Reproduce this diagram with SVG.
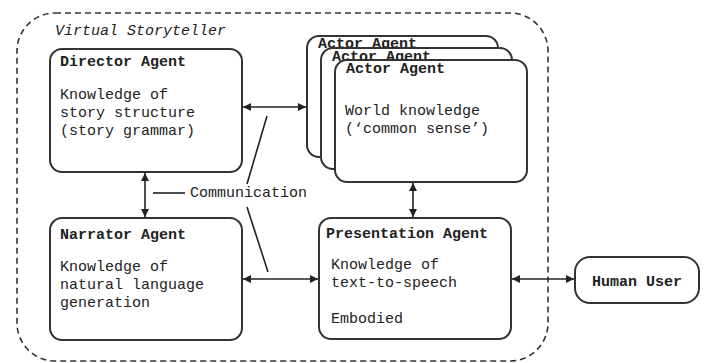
<svg xmlns="http://www.w3.org/2000/svg" width="708" height="363" viewBox="0 0 708 363">
<defs>
<marker id="ah" viewBox="0 0 10 10" refX="10" refY="5" markerWidth="8" markerHeight="8" markerUnits="userSpaceOnUse" orient="auto-start-reverse">
<path d="M0,0 L10,5 L0,10 z" fill="#222"/>
</marker>
<style>
.box{fill:#fff;stroke:#333;stroke-width:2}
.t{font-family:"Liberation Mono","Courier New",monospace;font-size:15px;fill:#222}
.b{font-weight:bold}
.c{stroke:#222;stroke-width:1.6;fill:none}
</style>
</defs>
<rect width="708" height="363" fill="#fff"/>
<g id="storyteller">
<rect x="17" y="13" width="531" height="348" rx="38" ry="38" fill="none" stroke="#333" stroke-width="1.6" stroke-dasharray="6 4"/>
<text class="t" x="55" y="35" font-style="italic">Virtual Storyteller</text>
</g>
<g id="director">
<rect class="box" x="50" y="49" width="192" height="123" rx="12"/>
<text class="t b" x="60" y="66">Director Agent</text>
<text class="t" x="60" y="99">Knowledge of</text>
<text class="t" x="60" y="117">story structure</text>
<text class="t" x="60" y="135">(story grammar)</text>
</g>
<g id="narrator">
<rect class="box" x="50" y="218" width="192" height="122" rx="12"/>
<text class="t b" x="60" y="239">Narrator Agent</text>
<text class="t" x="60" y="271">Knowledge of</text>
<text class="t" x="60" y="289">natural language</text>
<text class="t" x="60" y="307">generation</text>
</g>
<g id="actor1">
<rect class="box" x="307" y="36" width="191" height="121" rx="12"/>
<text class="t b" x="318" y="48">Actor Agent</text>
</g>
<g id="actor2">
<rect class="box" x="321" y="48" width="191" height="121" rx="12"/>
<text class="t b" x="332" y="61">Actor Agent</text>
</g>
<g id="actor3">
<rect class="box" x="335" y="60" width="192" height="122" rx="12"/>
<text class="t b" x="346" y="73">Actor Agent</text>
<text class="t" x="345" y="115">World knowledge</text>
<text class="t" x="345" y="133">(‘common sense’)</text>
</g>
<g id="presentation">
<rect class="box" x="319" y="218" width="192" height="121" rx="12"/>
<text class="t b" x="326" y="238">Presentation Agent</text>
<text class="t" x="331" y="269">Knowledge of</text>
<text class="t" x="331" y="287">text-to-speech</text>
<text class="t" x="331" y="323">Embodied</text>
</g>
<g id="human">
<rect class="box" x="575" y="257" width="124" height="46" rx="15"/>
<text class="t b" x="592" y="286">Human User</text>
</g>
<g id="connectors">
<line class="c" x1="243" y1="107" x2="306" y2="107" marker-start="url(#ah)" marker-end="url(#ah)"/>
<line class="c" x1="145" y1="173" x2="145" y2="217" marker-start="url(#ah)" marker-end="url(#ah)"/>
<line class="c" x1="243" y1="279" x2="318" y2="279" marker-start="url(#ah)" marker-end="url(#ah)"/>
<line class="c" x1="413" y1="183" x2="413" y2="217" marker-start="url(#ah)" marker-end="url(#ah)"/>
<line class="c" x1="512" y1="279" x2="574" y2="279" marker-start="url(#ah)" marker-end="url(#ah)"/>
<line class="c" stroke-width="1.3" x1="267" y1="116" x2="247" y2="184"/>
<line class="c" stroke-width="1.3" x1="247" y1="207" x2="268" y2="272"/>
<line class="c" stroke-width="1.3" x1="153" y1="193" x2="185" y2="193"/>
<text class="t" x="190" y="197">Communication</text>
</g>
</svg>
